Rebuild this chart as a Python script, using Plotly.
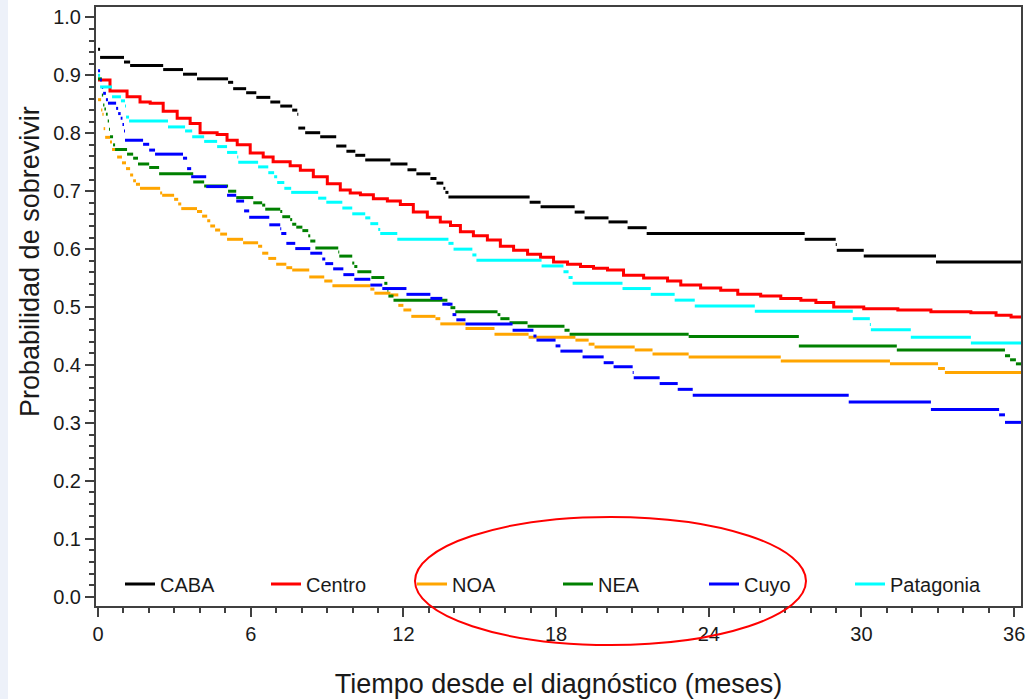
import plotly.graph_objects as go

# ---------------- data ----------------
caba_t = [0, 0.08, 1.02, 1.26, 2.56, 3.34, 3.89, 5.11, 5.31, 5.82, 6.22, 6.77, 7.16, 7.63, 7.83,
          7.87, 8.14, 8.73, 9.36, 9.76, 10.11, 10.50, 11.49, 12.16, 12.51, 13.06, 13.30, 13.57,
          13.65, 13.77, 16.96, 17.39, 18.73, 19.12, 20.06, 20.81, 21.56, 27.77, 28.99, 29.03,
          30.09, 32.93]
caba_s = [0.945, 0.931, 0.923, 0.917, 0.910, 0.902, 0.894, 0.888, 0.877, 0.870, 0.862, 0.854, 0.847,
          0.840, 0.833, 0.809, 0.801, 0.794, 0.778, 0.769, 0.762, 0.754, 0.747, 0.737, 0.730, 0.722,
          0.714, 0.705, 0.698, 0.690, 0.681, 0.673, 0.664, 0.654, 0.647, 0.637, 0.627, 0.617, 0.608,
          0.598, 0.588, 0.578]

centro_t = [0, 0.47, 1.14, 1.65, 2.05, 2.56, 3.11, 3.62, 4.01, 4.68, 5.07, 5.47, 5.98, 6.49, 6.88,
            7.55, 7.95, 8.46, 9.01, 9.52, 9.91, 10.31, 10.82, 11.37, 11.88, 12.39, 12.94, 13.45,
            13.85, 14.24, 14.75, 15.30, 15.81, 16.33, 16.88, 17.39, 17.90, 18.45, 18.96, 19.47,
            20.02, 20.65, 21.44, 22.38, 22.90, 23.68, 24.47, 25.14, 26.04, 26.83, 27.62, 28.21,
            28.91, 30.09, 31.43, 32.73, 34.30, 35.29, 35.88]
centro_s = [0.892, 0.873, 0.863, 0.854, 0.852, 0.838, 0.826, 0.817, 0.801, 0.798, 0.788, 0.780, 0.766,
            0.759, 0.751, 0.744, 0.736, 0.725, 0.713, 0.702, 0.697, 0.694, 0.687, 0.683, 0.677, 0.664,
            0.655, 0.647, 0.641, 0.630, 0.623, 0.616, 0.605, 0.598, 0.591, 0.586, 0.578, 0.574, 0.570,
            0.567, 0.564, 0.555, 0.550, 0.545, 0.538, 0.533, 0.529, 0.522, 0.519, 0.515, 0.512, 0.508,
            0.500, 0.497, 0.495, 0.492, 0.490, 0.486, 0.483]

noa_t = [0, 0.12, 0.17, 0.22, 0.28, 0.47, 0.55, 0.75, 0.94, 1.10, 1.26, 1.38, 1.49, 1.65, 2.44, 2.52,
         2.99, 3.15, 3.27, 3.89, 4.09, 4.29, 4.41, 4.60, 4.80, 5.07, 5.70, 6.29, 6.45, 6.69, 7.00,
         7.40, 7.63, 8.30, 8.89, 9.21, 10.70, 10.86, 11.49, 11.80, 12.00, 12.31, 13.26, 13.45,
         14.44, 15.58, 16.92, 18.76, 19.28, 19.51, 21.09, 21.79, 23.21, 26.83, 31.12, 33.01, 33.28]
noa_s = [0.858, 0.840, 0.833, 0.808, 0.793, 0.785, 0.772, 0.759, 0.749, 0.739, 0.728, 0.718, 0.712,
         0.705, 0.697, 0.693, 0.686, 0.678, 0.670, 0.665, 0.657, 0.649, 0.640, 0.633, 0.626, 0.617,
         0.611, 0.605, 0.593, 0.584, 0.574, 0.568, 0.564, 0.552, 0.545, 0.537, 0.531, 0.524, 0.521,
         0.503, 0.495, 0.484, 0.480, 0.471, 0.463, 0.453, 0.448, 0.443, 0.436, 0.431, 0.426, 0.419,
         0.414, 0.407, 0.402, 0.394, 0.387]

nea_t = [0, 0.15, 0.20, 0.25, 0.31, 0.38, 0.43, 0.47, 0.59, 0.67, 1.14, 1.38, 1.57, 2.01, 2.40, 3.74,
         4.17, 5.11, 5.43, 6.10, 6.45, 6.57, 7.16, 7.24, 7.55, 7.63, 7.79, 8.03, 8.26, 8.34, 8.54,
         9.44, 9.48, 9.99, 10.07, 10.19, 10.74, 11.25, 11.37, 11.41, 11.61, 13.73, 13.85, 14.04,
         15.70, 15.81, 16.17, 16.88, 18.33, 18.53, 23.21, 27.54, 31.39, 35.64, 35.84, 36.07]
nea_s = [0.894, 0.866, 0.849, 0.842, 0.833, 0.821, 0.807, 0.794, 0.780, 0.772, 0.764, 0.757, 0.747,
         0.741, 0.730, 0.716, 0.709, 0.700, 0.689, 0.680, 0.676, 0.669, 0.665, 0.656, 0.651, 0.643,
         0.638, 0.632, 0.623, 0.614, 0.602, 0.595, 0.588, 0.576, 0.570, 0.561, 0.551, 0.541, 0.529,
         0.519, 0.512, 0.505, 0.499, 0.492, 0.487, 0.480, 0.473, 0.467, 0.460, 0.453, 0.449, 0.433,
         0.426, 0.416, 0.409, 0.402]

cuyo_t = [0, 0.08, 0.15, 0.20, 0.31, 0.39, 0.71, 0.79, 0.89, 0.96, 1.02, 1.06, 1.77, 2.01, 2.24,
          3.34, 3.50, 3.66, 4.25, 5.07, 5.43, 5.74, 5.94, 6.73, 7.16, 7.20, 7.40, 7.75, 8.34, 8.81,
          8.93, 9.24, 9.64, 10.07, 10.70, 11.17, 12.12, 13.06, 13.53, 13.93, 14.08, 14.44, 16.29,
          17.11, 17.23, 17.98, 18.17, 19.04, 19.87, 20.26, 21.01, 21.05, 22.07, 22.78, 23.37,
          29.50, 32.73, 35.41, 35.64]
cuyo_s = [0.908, 0.892, 0.879, 0.869, 0.858, 0.852, 0.843, 0.834, 0.826, 0.815, 0.804, 0.788, 0.781,
          0.771, 0.764, 0.757, 0.739, 0.725, 0.708, 0.693, 0.683, 0.666, 0.655, 0.642, 0.635, 0.627,
          0.610, 0.601, 0.593, 0.583, 0.575, 0.566, 0.556, 0.548, 0.538, 0.532, 0.522, 0.515, 0.505,
          0.487, 0.478, 0.471, 0.460, 0.450, 0.443, 0.433, 0.424, 0.414, 0.404, 0.397, 0.387, 0.378,
          0.368, 0.358, 0.348, 0.336, 0.323, 0.314, 0.301]

pat_t = [0, 0.08, 0.55, 0.90, 1.06, 1.10, 1.22, 2.75, 3.42, 3.70, 4.17, 4.68, 5.07, 5.47, 5.51, 6.29,
         6.69, 6.92, 7.04, 7.32, 7.59, 8.65, 8.97, 9.60, 9.99, 10.50, 10.70, 11.01, 11.09, 11.76,
         13.77, 13.97, 14.71, 14.87, 17.43, 18.29, 18.49, 18.65, 20.61, 21.72, 22.66, 23.45, 25.81,
         29.66, 30.33, 30.37, 31.94, 34.30]
pat_s = [0.900, 0.880, 0.863, 0.856, 0.847, 0.828, 0.821, 0.811, 0.804, 0.794, 0.786, 0.777, 0.767,
         0.759, 0.750, 0.742, 0.732, 0.725, 0.715, 0.705, 0.698, 0.688, 0.681, 0.671, 0.661, 0.654,
         0.644, 0.634, 0.627, 0.617, 0.610, 0.600, 0.590, 0.581, 0.571, 0.561, 0.551, 0.541, 0.532,
         0.522, 0.512, 0.502, 0.493, 0.480, 0.470, 0.461, 0.448, 0.438]

t_end = 36.27
series_names = ["CABA", "Centro", "NOA", "NEA", "Cuyo", "Patagonia"]
series_colors = ["#000000", "#FF0000", "#FFA500", "#008000", "#0000FF", "#00FFFF"]
series_t = [caba_t, centro_t, noa_t, nea_t, cuyo_t, pat_t]
series_s = [caba_s, centro_s, noa_s, nea_s, cuyo_s, pat_s]

x_ticks = [0, 6, 12, 18, 24, 30, 36]
y_ticks = [0.0, 0.1, 0.2, 0.3, 0.4, 0.5, 0.6, 0.7, 0.8, 0.9, 1.0]


def step_segments(ts, ss, end):
    """Horizontal segments only (no vertical risers), like the original plot."""
    xs, ys = [], []
    for i, (t, s) in enumerate(zip(ts, ss)):
        nxt = ts[i + 1] if i + 1 < len(ts) else end
        xs += [t, nxt, None]
        ys += [s, s, None]
    return xs, ys


fig = go.Figure()
for name, col, ts, ss in zip(series_names, series_colors, series_t, series_s):
    if name == "Centro":
        xs = list(ts) + [t_end]
        ys = list(ss) + [ss[-1]]
        fig.add_trace(go.Scatter(x=xs, y=ys, mode="lines", name=name,
                                 line=dict(color=col, width=3, shape="hv")))
    else:
        xs, ys = step_segments(ts, ss, t_end)
        fig.add_trace(go.Scatter(x=xs, y=ys, mode="lines", name=name,
                                 line=dict(color=col, width=3), connectgaps=False))

FONT = "Liberation Sans, Arial, sans-serif"
L, R, T, B = 96, 1021, 7, 606
W, H = 1028, 699
pw, ph = R - L, B - T


def px(x):
    return (x - L) / pw


def py(y):
    return (B - y) / ph


axis_common = dict(showgrid=False, zeroline=False, showline=True, linecolor="#404040",
                   linewidth=2, mirror=True, ticks="outside", tickcolor="#404040",
                   tickwidth=2, ticklen=9,
                   tickfont=dict(family=FONT, size=20, color="#1a1a1a"))

fig.update_xaxes(range=[-0.08, t_end], tickvals=x_ticks, ticktext=[str(v) for v in x_ticks],
                 minor=dict(dtick=1, ticks="outside", ticklen=5, tickcolor="#404040", tickwidth=2),
                 ticklabelstandoff=0,
                 title=dict(text="Tiempo desde el diagnóstico (meses)",
                            font=dict(family=FONT, size=27, color="#1a1a1a"), standoff=32),
                 **axis_common)
fig.update_yaxes(range=[-0.016, 1.018], tickvals=y_ticks, ticktext=[f"{v:.1f}" for v in y_ticks],
                 minor=dict(dtick=0.02, ticks="outside", ticklen=5, tickcolor="#404040", tickwidth=2),
                 **axis_common)

# y-axis title placed like the original (slightly above centre)
fig.add_annotation(text="Probabilidad de sobrevivir", xref="paper", yref="paper",
                   x=px(30), y=py(262), textangle=-90, showarrow=False,
                   xanchor="center", yanchor="middle",
                   font=dict(family=FONT, size=27, color="#1a1a1a"))

# red hand-drawn ellipse around part of the legend
fig.add_shape(type="circle", xref="paper", yref="paper",
              x0=px(415), x1=px(806), y0=py(645), y1=py(517),
              line=dict(color="#FF0000", width=2), fillcolor="rgba(0,0,0,0)")

# faint bluish strip at the left edge of the screenshot
fig.add_shape(type="rect", xref="paper", yref="paper",
              x0=px(0), x1=px(8), y0=py(699), y1=py(0),
              line=dict(width=0), fillcolor="#EDF1F9", layer="below")

fig.update_layout(
    width=W, height=H,
    margin=dict(l=L, r=W - R, t=T, b=H - B, autoexpand=False),
    paper_bgcolor="white", plot_bgcolor="white",
    font=dict(family=FONT, color="#1a1a1a"),
    showlegend=True,
    legend=dict(orientation="h", x=px(120), y=py(584), xanchor="left", yanchor="middle",
                entrywidth=101, entrywidthmode="pixels", bgcolor="rgba(0,0,0,0)",
                font=dict(family=FONT, size=20, color="#1a1a1a"), itemwidth=30,
                tracegroupgap=0),
)

fig.write_html("out.html",
               config={"displayModeBar": False},
               post_script="document.body.style.margin='0px';document.body.style.overflow='hidden';")
